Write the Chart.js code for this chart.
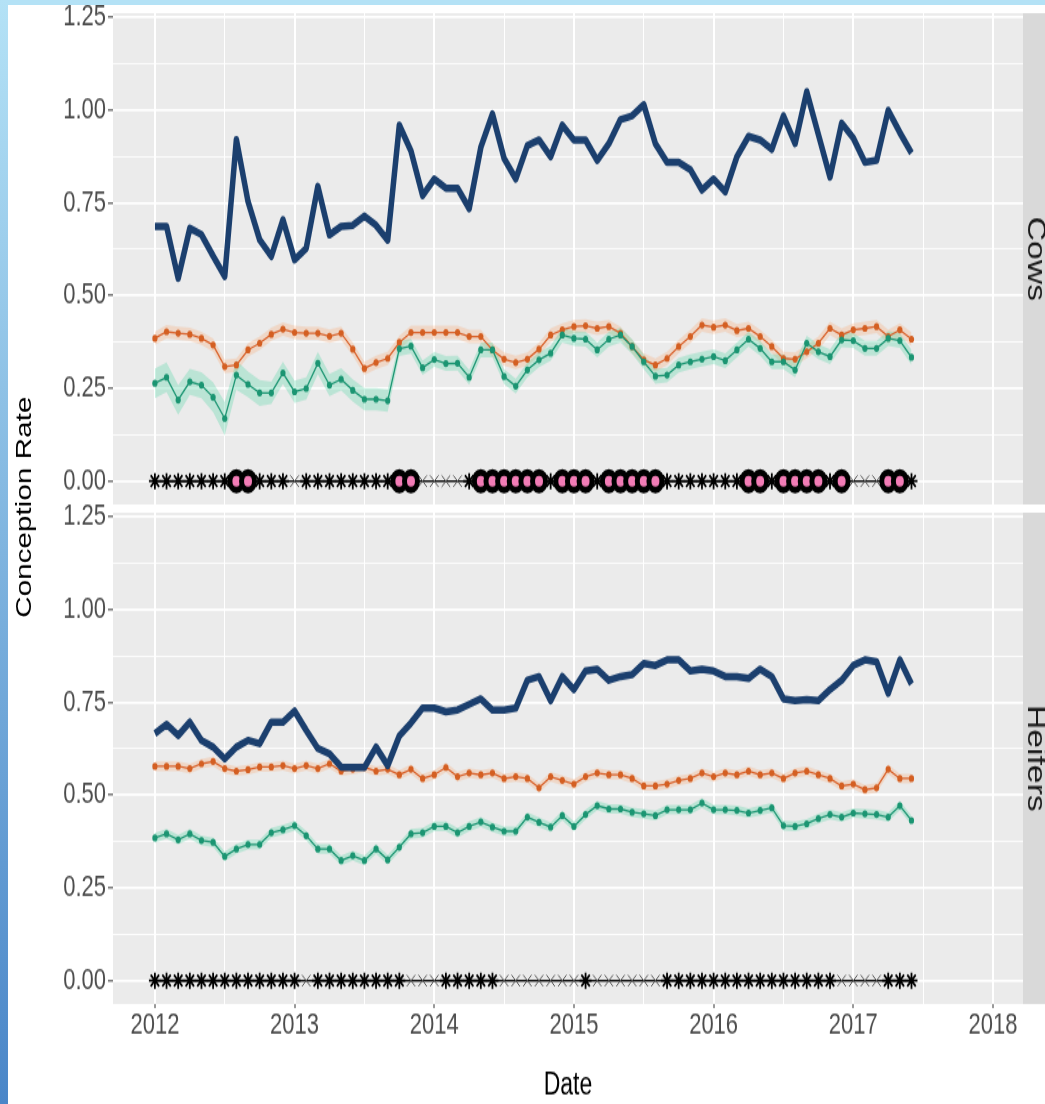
<!DOCTYPE html>
<html>
<head>
<meta charset="utf-8">
<title>Conception Rate</title>
<script src="https://cdn.jsdelivr.net/npm/chart.js@4.4.1/dist/chart.umd.min.js"></script>
<style>
  html, body { margin: 0; padding: 0; background: #fff; }
  body { width: 1045px; height: 1104px; position: relative; overflow: hidden; }
  #topbar { position: absolute; left: 0; top: 0; width: 1045px; height: 5px; background: #b4e2f6; }
  #sidebar { position: absolute; left: 0; top: 0; width: 8px; height: 1104px; background: linear-gradient(#b4e2f6, #4a86c8); }
  /* the reference is stretched vertically, so the whole plot is too */
  #plot { position: absolute; left: 8px; top: 5px; width: 1037px; height: 814px; transform: scaleY(1.35); transform-origin: 0 0; }
  #plot canvas { position: absolute; left: 0; }
  #cows-chart { top: 0; }
  #heifers-chart { top: 356px; }
  #ytitle { position: absolute; left: 16px; top: 372px; transform: translate(-50%, -50%) rotate(-90deg);
            font: 22px 'Liberation Sans', Arial, sans-serif; color: #000; white-space: nowrap; }
</style>
</head>
<body>
<div id="topbar"></div>
<div id="sidebar"></div>
<div id="plot">
  <canvas id="cows-chart" width="1037" height="372"></canvas>
  <canvas id="heifers-chart" width="1037" height="458"></canvas>
  <div id="ytitle">Conception Rate</div>
</div>
<script>
// monthly data, Jan 2012 .. Jun 2017
const months = Array.from({ length: 66 }, (_, i) => 2012 + i / 12);
const yearTicks = [2012, 2013, 2014, 2015, 2016, 2017, 2018];
const halfYearTicks = [2012.5, 2013.5, 2014.5, 2015.5, 2016.5, 2017.5];
const rateTicks = [0, 0.25, 0.5, 0.75, 1, 1.25];
const halfRateTicks = [0.125, 0.375, 0.625, 0.875, 1.125];

// Cows panel
const cowsBlue = [
  0.687, 0.687, 0.547, 0.682, 0.665, 0.607, 0.552, 0.921, 0.754, 0.651, 0.606, 0.705,
  0.597, 0.628, 0.795, 0.664, 0.687, 0.69, 0.715, 0.69, 0.65, 0.96, 0.89, 0.77,
  0.815, 0.79, 0.79, 0.735, 0.90, 0.99, 0.87, 0.815, 0.905, 0.92, 0.875, 0.96,
  0.92, 0.92, 0.865, 0.91, 0.975, 0.985, 1.015, 0.91, 0.86, 0.86, 0.84, 0.785,
  0.815, 0.78, 0.875, 0.93, 0.92, 0.895, 0.985, 0.91, 1.05, 0.935, 0.82, 0.965,
  0.925, 0.86, 0.865, 1.0, 0.94, 0.885
];
const cowsOrange = [
  0.385, 0.403, 0.399, 0.396, 0.385, 0.367, 0.309, 0.313, 0.354, 0.372, 0.396, 0.41,
  0.401, 0.399, 0.399, 0.391, 0.399, 0.356, 0.304, 0.32, 0.331, 0.374, 0.401, 0.401,
  0.401, 0.401, 0.401, 0.39, 0.39, 0.354, 0.329, 0.32, 0.329, 0.356, 0.394, 0.408,
  0.417, 0.419, 0.412, 0.417, 0.399, 0.363, 0.327, 0.313, 0.331, 0.363, 0.39, 0.421,
  0.415, 0.421, 0.406, 0.412, 0.39, 0.363, 0.331, 0.329, 0.349, 0.372, 0.412, 0.394,
  0.408, 0.412, 0.417, 0.39, 0.408, 0.383
];
const cowsGreen = [
  0.264, 0.28, 0.219, 0.268, 0.259, 0.226, 0.169, 0.286, 0.261, 0.238, 0.238, 0.292,
  0.241, 0.25, 0.318, 0.259, 0.275, 0.245, 0.221, 0.221, 0.217, 0.357, 0.364, 0.306,
  0.328, 0.317, 0.318, 0.28, 0.354, 0.354, 0.282, 0.256, 0.3, 0.327, 0.345, 0.394,
  0.385, 0.383, 0.354, 0.383, 0.394, 0.363, 0.322, 0.283, 0.286, 0.313, 0.322, 0.329,
  0.336, 0.325, 0.354, 0.383, 0.358, 0.322, 0.322, 0.3, 0.372, 0.349, 0.336, 0.381,
  0.379, 0.358, 0.358, 0.385, 0.379, 0.334
];
// half widths of the shaded bands
const cowsOrangeBand = 0.018;
const cowsGreenBand = [
  0.04, 0.04, 0.04, 0.035, 0.035, 0.04, 0.045, 0.04, 0.035, 0.035, 0.03, 0.03,
  0.03, 0.03, 0.03, 0.03, 0.03, 0.03, 0.03, 0.03, 0.03, 0.02, 0.02, 0.02,
  0.02, 0.02, 0.02, 0.02, 0.02, 0.02, 0.02, 0.02, 0.02, 0.02, 0.02, 0.02,
  0.02, 0.02, 0.02, 0.02, 0.02, 0.02, 0.02, 0.02, 0.02, 0.02, 0.02, 0.02,
  0.02, 0.02, 0.02, 0.02, 0.02, 0.02, 0.02, 0.02, 0.02, 0.02, 0.02, 0.02,
  0.02, 0.02, 0.02, 0.02, 0.02, 0.02
];
const cowsCrossMonths = [12, 23, 24, 25, 26, 60, 61, 62];
const cowsFlagMonths = [7, 8, 21, 22, 28, 29, 30, 31, 32, 33, 35, 36, 37, 39, 40, 41, 42, 43,
                        51, 52, 54, 55, 56, 57, 59, 63, 64];

// Heifers panel
const heifersBlue = [
  0.666, 0.691, 0.661, 0.697, 0.648, 0.63, 0.598, 0.63, 0.648, 0.639, 0.697, 0.697,
  0.727, 0.675, 0.626, 0.612, 0.576, 0.575, 0.575, 0.63, 0.58, 0.66, 0.695, 0.735,
  0.735, 0.725, 0.73, 0.745, 0.76, 0.73, 0.73, 0.735, 0.81, 0.82, 0.755, 0.82,
  0.785, 0.835, 0.84, 0.81, 0.82, 0.825, 0.855, 0.85, 0.865, 0.865, 0.835, 0.84,
  0.835, 0.82, 0.82, 0.815, 0.84, 0.82, 0.76, 0.755, 0.758, 0.755, 0.785, 0.81,
  0.85, 0.865, 0.86, 0.775, 0.865, 0.80
];
const heifersOrange = [
  0.578, 0.578, 0.578, 0.572, 0.585, 0.591, 0.572, 0.565, 0.569, 0.576, 0.576, 0.58,
  0.572, 0.58, 0.572, 0.585, 0.565, 0.57, 0.575, 0.565, 0.57, 0.555, 0.57, 0.545,
  0.555, 0.575, 0.55, 0.56, 0.555, 0.56, 0.545, 0.55, 0.545, 0.52, 0.55, 0.54,
  0.53, 0.55, 0.56, 0.555, 0.555, 0.545, 0.525, 0.525, 0.53, 0.54, 0.545, 0.56,
  0.55, 0.56, 0.555, 0.565, 0.555, 0.56, 0.545, 0.56, 0.565, 0.555, 0.545, 0.525,
  0.53, 0.515, 0.52, 0.57, 0.545, 0.545
];
const heifersGreen = [
  0.385, 0.396, 0.38, 0.396, 0.378, 0.373, 0.335, 0.355, 0.367, 0.367, 0.399, 0.407,
  0.418, 0.391, 0.355, 0.355, 0.324, 0.337, 0.324, 0.355, 0.326, 0.36, 0.396, 0.399,
  0.416, 0.416, 0.399, 0.416, 0.428, 0.414, 0.403, 0.403, 0.441, 0.427, 0.414, 0.445,
  0.416, 0.448, 0.472, 0.463, 0.463, 0.454, 0.45, 0.445, 0.461, 0.461, 0.461, 0.479,
  0.461, 0.461, 0.459, 0.452, 0.459, 0.466, 0.418, 0.416, 0.423, 0.437, 0.448, 0.441,
  0.452, 0.45, 0.448, 0.441, 0.472, 0.432
];
const heifersOrangeBand = 0.013;
const heifersGreenBand = 0.013;
const heifersCrossMonths = [13, 22, 23, 24, 30, 31, 32, 33, 34, 35, 36, 38, 39, 40, 41, 42, 43,
                            59, 60, 61, 62];
const heifersFlagMonths = [];

const FONT = "'Liberation Sans', Arial, sans-serif";

function pts(vals) {
  return vals.map((v, i) => ({ x: months[i], y: v }));
}

function band(vals, half, sign) {
  return vals.map((v, i) => ({ x: months[i], y: v + sign * (Array.isArray(half) ? half[i] : half) }));
}

function buildDatasets(blue, orange, orangeBand, green, greenBand, crossMonths, flagMonths) {
  const crosses = new Set(crossMonths);
  return [
    { data: band(orange, orangeBand, -1), borderWidth: 0, pointRadius: 0, fill: false, order: 9 },
    { data: band(orange, orangeBand, 1), borderWidth: 0, pointRadius: 0, fill: '-1',
      backgroundColor: 'rgba(250, 175, 125, 0.32)', order: 9 },
    { data: band(green, greenBand, -1), borderWidth: 0, pointRadius: 0, fill: false, order: 8 },
    { data: band(green, greenBand, 1), borderWidth: 0, pointRadius: 0, fill: '-1',
      backgroundColor: 'rgba(90, 215, 170, 0.33)', order: 8 },
    { data: pts(orange), borderColor: '#d9622b', borderWidth: 1.3, pointRadius: 2.6,
      pointBackgroundColor: '#d45f22', pointBorderWidth: 0, order: 6 },
    { data: pts(green), borderColor: '#1b9572', borderWidth: 1.3, pointRadius: 2.6,
      pointBackgroundColor: '#1b9572', pointBorderWidth: 0, order: 5 },
    { data: pts(blue), borderColor: '#1b3f6e', borderWidth: 5.5, pointRadius: 0,
      borderJoinStyle: 'round', order: 4 },
    { data: pts(new Array(months.length).fill(0)), borderColor: '#111', borderWidth: 1.4,
      pointRadius: 6,
      pointStyle: c => crosses.has(c.dataIndex) ? 'crossRot' : 'star',
      pointBorderColor: c => crosses.has(c.dataIndex) ? '#555' : '#000',
      pointBorderWidth: c => crosses.has(c.dataIndex) ? 1 : 1.8,
      pointBackgroundColor: 'rgba(0,0,0,0)', order: 3 },
    { data: flagMonths.map(i => ({ x: months[i], y: 0 })), showLine: false,
      pointRadius: 6.5, pointBorderWidth: 5, pointBorderColor: '#000',
      pointBackgroundColor: '#f27cb6', order: 1 }
  ];
}

// grey panel background and the facet strip on the right
const panelPlugin = {
  id: 'panel',
  beforeDraw(chart, args, opts) {
    const { ctx, chartArea: a } = chart;
    ctx.save();
    ctx.fillStyle = '#ebebeb';
    ctx.fillRect(a.left, a.top, a.right - a.left, a.bottom - a.top);
    ctx.fillStyle = '#d9d9d9';
    ctx.fillRect(a.right, a.top, chart.width - a.right, a.bottom - a.top);
    ctx.translate(a.right + 5, (a.top + a.bottom) / 2);
    ctx.rotate(Math.PI / 2);
    ctx.fillStyle = '#1a1a1a';
    ctx.font = '25px ' + FONT;
    ctx.textAlign = 'center';
    ctx.textBaseline = 'alphabetic';
    ctx.fillText(opts.label, 0, 0);
    ctx.restore();
  }
};

function xScale(showLabels) {
  const isMajor = c => c.tick && yearTicks.includes(c.tick.value);
  return {
    type: 'linear',
    min: 2011.7,
    max: 2018.215,
    afterBuildTicks: s => {
      s.ticks = yearTicks.concat(halfYearTicks).sort((a, b) => a - b).map(v => ({ value: v }));
    },
    afterFit: s => {
      s.height = showLabels ? 74 : 0;
      s.paddingLeft = 0;
      s.paddingRight = 0;
    },
    ticks: {
      display: showLabels, autoSkip: false, maxRotation: 0, padding: 0,
      color: '#4d4d4d', font: { family: FONT, size: 22 },
      callback: v => yearTicks.includes(v) ? String(v) : ''
    },
    grid: {
      color: '#fff',
      lineWidth: c => isMajor(c) ? 2 : 1,
      drawTicks: showLabels,
      tickLength: 3,
      tickWidth: 1,
      tickColor: c => isMajor(c) ? '#333' : 'rgba(0,0,0,0)'
    },
    border: { display: false },
    title: {
      display: showLabels, text: 'Date', color: '#000',
      font: { family: FONT, size: 23 }, padding: { top: 0, bottom: 0 }
    }
  };
}

function yScale() {
  const isMajor = c => c.tick && rateTicks.includes(c.tick.value);
  return {
    min: -0.063,
    max: 1.262,
    afterBuildTicks: s => {
      s.ticks = rateTicks.concat(halfRateTicks).sort((a, b) => a - b).map(v => ({ value: v }));
    },
    afterFit: s => {
      s.width = 105;
      s.paddingTop = 0;
      s.paddingBottom = 0;
    },
    ticks: {
      autoSkip: false, padding: 2, color: '#4d4d4d', font: { family: FONT, size: 22 },
      callback: v => rateTicks.includes(v) ? v.toFixed(2) : ''
    },
    grid: {
      color: '#fff',
      lineWidth: c => isMajor(c) ? 1.7 : 0.9,
      tickLength: 5,
      tickWidth: 1,
      tickColor: c => isMajor(c) ? '#333' : 'rgba(0,0,0,0)'
    },
    border: { display: false }
  };
}

function makeChart(id, label, datasets, showX, padding) {
  return new Chart(document.getElementById(id), {
    type: 'line',
    data: { datasets },
    plugins: [panelPlugin],
    options: {
      responsive: false,
      animation: false,
      events: [],
      layout: { padding, autoPadding: false },
      plugins: {
        legend: { display: false },
        tooltip: { enabled: false },
        panel: { label }
      },
      scales: { x: xScale(showX), y: yScale() }
    }
  });
}

makeChart('cows-chart', 'Cows',
  buildDatasets(cowsBlue, cowsOrange, cowsOrangeBand, cowsGreen, cowsGreenBand, cowsCrossMonths, cowsFlagMonths),
  false, { top: 6, right: 22, bottom: 2, left: 0 });

// this canvas starts a little higher so the top "1.25" label is not cut
makeChart('heifers-chart', 'Heifers',
  buildDatasets(heifersBlue, heifersOrange, heifersOrangeBand, heifersGreen, heifersGreenBand, heifersCrossMonths, heifersFlagMonths),
  true, { top: 20, right: 22, bottom: 0, left: 0 });
</script>
</body>
</html>
